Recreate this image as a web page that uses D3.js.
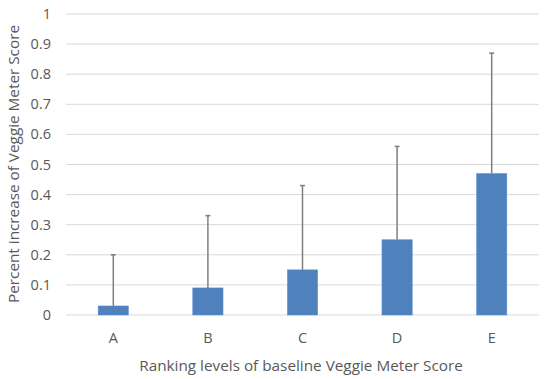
<!DOCTYPE html>
<html>
<head>
<meta charset="utf-8">
<script src="https://cdn.jsdelivr.net/npm/d3@7"></script>
<style>
  body { margin: 0; background: #fff; }
  text { font-family: "Open Sans", sans-serif; fill: #595959; }
</style>
</head>
<body>
<svg id="chart" width="550" height="379"></svg>
<script>
// chart data
var categories = ["A", "B", "C", "D", "E"];
var meanValues = [0.03, 0.09, 0.15, 0.25, 0.47];
var errorTops = [0.20, 0.33, 0.43, 0.56, 0.87];
var yTicks = [0, 0.1, 0.2, 0.3, 0.4, 0.5, 0.6, 0.7, 0.8, 0.9, 1];

var svg = d3.select("#chart");
var plotLeft = 66, plotRight = 539, plotTop = 14, plotBottom = 315;

var x = d3.scaleBand()
    .domain(categories)
    .range([plotLeft, plotRight])
    .padding(0);
var y = d3.scaleLinear()
    .domain([0, 1])
    .range([plotBottom, plotTop]);

var barWidth = x.bandwidth() * 0.32;

// gridlines
svg.append("g")
    .selectAll("line")
    .data(yTicks)
    .enter().append("line")
    .attr("x1", plotLeft)
    .attr("x2", plotRight)
    .attr("y1", function (d) { return y(d); })
    .attr("y2", function (d) { return y(d); })
    .style("stroke", "#d9d9d9")
    .style("stroke-width", 1);

// y tick labels
svg.append("g")
    .selectAll("text")
    .data(yTicks)
    .enter().append("text")
    .attr("x", 51)
    .attr("y", function (d) { return y(d); })
    .attr("dy", "0.35em")
    .attr("text-anchor", "end")
    .style("font-size", "14.5px")
    .text(function (d) { return d3.format("")(d); });

var rows = categories.map(function (c, i) {
    return { cat: c, value: meanValues[i], top: errorTops[i] };
});

// error bars
var err = svg.append("g");
err.selectAll(".stem")
    .data(rows)
    .enter().append("line")
    .attr("class", "stem")
    .attr("x1", function (d) { return x(d.cat) + x.bandwidth() / 2; })
    .attr("x2", function (d) { return x(d.cat) + x.bandwidth() / 2; })
    .attr("y1", function (d) { return y(d.value); })
    .attr("y2", function (d) { return y(d.top); })
    .style("stroke", "#7f7f7f")
    .style("stroke-width", 1.5);
err.selectAll(".cap")
    .data(rows)
    .enter().append("line")
    .attr("class", "cap")
    .attr("x1", function (d) { return x(d.cat) + x.bandwidth() / 2 - 2.5; })
    .attr("x2", function (d) { return x(d.cat) + x.bandwidth() / 2 + 2.5; })
    .attr("y1", function (d) { return y(d.top); })
    .attr("y2", function (d) { return y(d.top); })
    .style("stroke", "#7f7f7f")
    .style("stroke-width", 1.5);

// bars
svg.append("g")
    .selectAll("rect")
    .data(rows)
    .enter().append("rect")
    .attr("x", function (d) { return x(d.cat) + x.bandwidth() / 2 - barWidth / 2; })
    .attr("y", function (d) { return y(d.value); })
    .attr("width", barWidth)
    .attr("height", function (d) { return y(0) - y(d.value); })
    .style("fill", "#4f81bd")
    .style("stroke", "#5b8fd0")
    .style("stroke-width", 0.5);

// x tick labels
svg.append("g")
    .selectAll("text")
    .data(categories)
    .enter().append("text")
    .attr("x", function (d) { return x(d) + x.bandwidth() / 2; })
    .attr("y", 343)
    .attr("text-anchor", "middle")
    .style("font-size", "14.5px")
    .text(function (d) { return d; });

// axis titles
svg.append("text")
    .attr("x", 301)
    .attr("y", 371)
    .attr("text-anchor", "middle")
    .style("font-size", "15.3px")
    .text("Ranking levels of baseline Veggie Meter Score");

svg.append("text")
    .attr("transform", "translate(19,164) rotate(-90)")
    .attr("text-anchor", "middle")
    .style("font-size", "15.3px")
    .text("Percent increase of Veggie Meter Score");
</script>
</body>
</html>
